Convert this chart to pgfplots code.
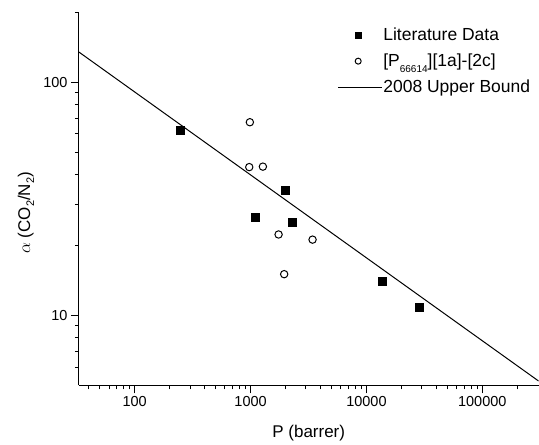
\documentclass[border=0pt]{standalone}
\usepackage{pgfplots}
\pgfplotsset{compat=1.18}
\usepackage{fontspec}
\setmainfont{Liberation Sans}
\begin{document}
\begin{tikzpicture}
\begin{axis}[
  scale only axis,
  width=460pt, height=373.7pt,
  xmode=log, ymode=log,
  xmin=33, xmax=306000,
  ymin=5, ymax=200,
  axis lines*=left,
  axis line style={line width=0.9pt},
  every tick/.style={black, line width=0.8pt},
  tick align=outside,
  major tick length=8pt,
  minor tick length=4pt,
  xtick={100,1000,10000,100000},
  xticklabels={100,1000,10000,100000},
  ytick={10,100},
  yticklabels={10,100},
  minor xtick={40,50,60,70,80,90,200,300,400,500,600,700,800,900,2000,3000,4000,5000,6000,7000,8000,9000,20000,30000,40000,50000,60000,70000,80000,90000,200000},
  minor ytick={6,7,8,9,20,30,40,50,60,70,80,90,200},
  tick label style={font=\fontsize{14.5}{17}\selectfont},
  /pgf/number format/assume math mode=true,
  xlabel={P (barrer)},
  ylabel={$\alpha$ (CO\raisebox{-0.45ex}{\fontsize{11}{12}\selectfont 2}/N\raisebox{-0.45ex}{\fontsize{11}{12}\selectfont 2})},
  label style={font=\fontsize{17}{20}\selectfont},
  xlabel style={at={(axis description cs:0.5,-0.129)}, anchor=center},
  ylabel style={at={(axis description cs:-0.115,0.462)}, anchor=center},
  legend style={draw=none, fill=none, at={(axis description cs:0.563,0.960)}, anchor=north west,
    inner sep=0pt, outer sep=0pt, row sep=10pt,
    font=\fontsize{17.5}{20}\selectfont, nodes={inner sep=1pt}},
  legend cell align=left,
]
\addplot[only marks, mark=square*, mark size=4pt, black,
  legend image code/.code={\path[draw=none, fill=none] (0pt,-3pt) rectangle (43.7pt,3pt);
    \path[draw=black, fill=black] (17pt,-3pt) rectangle (23pt,3pt);}]
  coordinates {(249,62.4) (1977,34.4) (1089,26.3) (2290,25.0) (13770,14.0) (28800,10.8)};
\addlegendentry{Literature Data}
\addplot[only marks, mark=o, mark size=3.7pt, black, mark options={line width=1pt},
  legend image code/.code={\path[draw=none, fill=none] (0pt,-3pt) rectangle (43.7pt,3pt);
    \path[draw=black, fill=none, line width=1pt] (20pt,0pt) circle (3pt);}]
  coordinates {(986,67.3) (974,43.2) (1277,43.4) (1745,22.2) (3428,21.1) (1950,15.0)};
\addlegendentry{[P\raisebox{-0.6ex}{\fontsize{10}{11}\selectfont 66614}][1a]-[2c]}
\addplot[black, line width=1pt,
  legend image code/.code={\draw[black, line width=1pt] (0pt,0pt) -- (43.7pt,0pt);}]
  coordinates {(33,134.6) (306000,5.22)};
\addlegendentry{2008 Upper Bound}
\end{axis}
\path ([shift={(-79pt,-57.3pt)}]current axis.south west) rectangle ([shift={(0pt,12pt)}]current axis.north east);
\end{tikzpicture}
\end{document}
